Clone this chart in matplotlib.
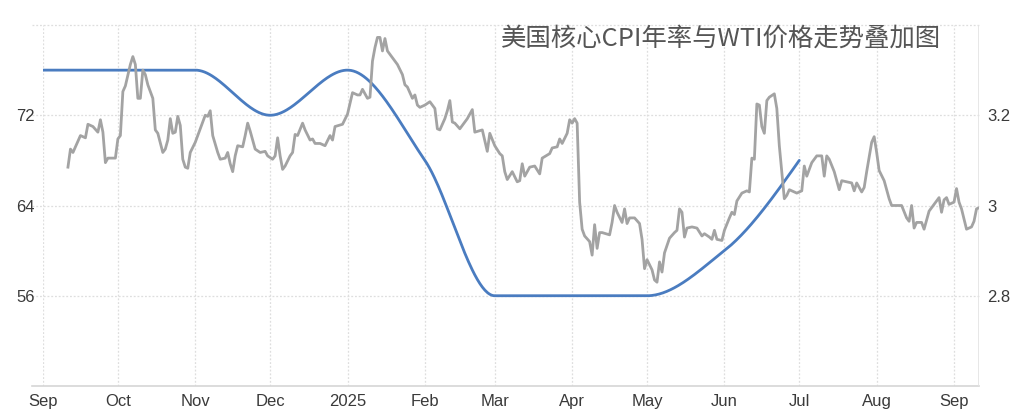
import numpy as np
import matplotlib
matplotlib.use("Agg")
import matplotlib.pyplot as plt
import matplotlib.dates as mdates

# ---------------- data ----------------
start_date = np.datetime64("2024-09-01")

# WTI price (left axis): day offset from 2024-09-01 and price
wti_days = [
    10, 11, 12, 13, 15, 17, 18, 20, 22, 23, 24, 25, 26, 29,
    30, 31, 32, 33, 35, 36, 37, 38, 39, 40, 41, 42, 44, 45, 46, 48, 49, 50, 51, 52, 53, 54, 55, 56, 57, 58, 59,
    61, 63, 65, 66, 67, 68, 70, 71, 73, 74, 75, 76, 77, 78, 80, 81, 82, 83, 85, 87, 89,
    90, 92, 93, 94, 95, 96, 97, 99, 100, 101, 102, 104, 105, 107, 108, 109, 111, 113, 115, 116, 117, 120,
    122, 124, 126, 127, 128, 130, 131, 132, 133, 134, 135, 136, 137, 138, 140, 142, 144, 145, 146, 148, 149, 150,
    151, 153, 155, 157, 158, 159, 161, 162, 163, 164, 165, 167, 168, 170, 172, 173, 176, 178,
    179, 181, 183, 184, 185, 186, 188, 190, 191, 192, 193, 195, 197, 199, 200, 203, 204, 206, 207, 208, 210, 211,
    212, 213, 214, 215, 216, 217, 219, 220, 221, 222, 223, 224, 227, 228, 229, 230, 232, 233, 234, 235, 237, 239, 240,
    241, 242, 244, 245, 246, 247, 248, 249, 251, 253, 254, 255, 256, 257, 258, 260, 262, 264, 265, 267, 268, 269, 270,
    272, 273, 275, 276, 277, 278, 280, 282, 283, 284, 285, 286, 287, 288, 289, 290, 291, 293, 294, 295, 297, 298, 299,
    302, 304, 305, 306, 307, 308, 310, 312, 313, 314, 315, 317, 319, 320, 322, 324, 325, 326, 328, 329, 330,
    332, 333, 334, 335, 337, 339, 340, 342, 344, 346, 347, 348, 349, 350, 352, 353, 355, 357, 359, 360,
    361, 362, 363, 365, 366, 367, 368, 370, 372, 373, 374, 375,
]
wti_price = [
    67.4, 69.0, 68.7, 69.2, 70.2, 70.0, 71.2, 71.0, 70.5, 71.6, 70.5, 67.8, 68.2, 68.2,
    69.9, 70.2, 74.1, 74.6, 76.5, 77.2, 76.5, 73.5, 73.5, 76.0, 75.6, 74.7, 73.5, 70.7, 70.4, 68.7, 69.0, 69.8, 71.7, 70.4, 70.5, 71.9, 71.1, 68.1, 67.4, 67.3, 68.7,
    69.6, 70.8, 72.0, 71.9, 72.4, 70.2, 68.7, 68.1, 68.2, 68.7, 67.7, 67.0, 68.4, 69.3, 69.2, 70.2, 71.3, 70.6, 69.0, 68.7, 68.8,
    68.4, 68.1, 68.4, 70.0, 68.4, 67.2, 67.5, 68.4, 68.7, 70.3, 70.2, 71.3, 70.7, 69.8, 69.9, 69.5, 69.5, 69.3, 70.2, 69.8, 71.0, 71.2,
    72.1, 74.0, 73.8, 73.8, 74.3, 73.5, 73.6, 76.8, 78.0, 78.9, 78.9, 77.7, 78.8, 77.7, 77.1, 76.5, 75.6, 74.7, 74.5, 73.5, 73.8, 72.9,
    72.7, 72.9, 73.2, 72.6, 70.8, 70.7, 71.7, 72.4, 73.3, 71.4, 71.3, 70.8, 71.1, 71.7, 72.5, 70.5, 70.7, 68.8,
    70.4, 69.3, 68.6, 68.4, 67.0, 66.3, 67.0, 66.1, 66.2, 67.7, 66.6, 67.4, 67.5, 66.8, 68.2, 68.6, 69.1, 69.2, 69.9, 69.5, 70.4, 71.6,
    71.3, 71.7, 71.3, 64.3, 61.9, 61.3, 60.8, 59.6, 62.3, 60.2, 61.6, 61.6, 61.4, 62.5, 64.0, 63.4, 62.5, 63.7, 62.4, 62.9, 62.9, 62.4, 61.0,
    58.4, 59.2, 58.3, 57.4, 57.2, 59.0, 58.1, 59.8, 61.1, 61.6, 61.8, 63.7, 63.4, 61.2, 62.0, 62.1, 62.0, 61.3, 61.5, 61.2, 61.0, 61.8, 61.0,
    60.9, 61.8, 62.9, 63.4, 63.2, 64.4, 65.1, 65.3, 65.2, 68.2, 68.1, 73.0, 72.9, 71.0, 70.4, 73.3, 73.6, 73.9, 72.6, 69.3, 64.6, 64.9, 65.4,
    65.1, 65.3, 67.5, 66.6, 67.2, 67.8, 68.4, 68.4, 66.6, 68.4, 68.1, 67.0, 65.4, 66.2, 66.1, 66.0, 65.3, 66.0, 65.2, 65.6, 67.0,
    69.6, 70.1, 68.7, 67.1, 66.2, 64.6, 64.0, 64.0, 64.0, 62.9, 62.6, 64.0, 62.0, 62.5, 62.5, 61.9, 63.5, 64.1, 64.7, 63.4,
    64.5, 64.7, 64.1, 64.3, 65.5, 64.3, 63.7, 61.9, 62.1, 62.6, 63.7, 63.8,
]

# US core CPI YoY (right axis), monthly
cpi_months = ["2024-09-01", "2024-10-01", "2024-11-01", "2024-12-01", "2025-01-01", "2025-02-01",
              "2025-03-01", "2025-04-01", "2025-05-01", "2025-06-01", "2025-07-01"]
cpi_values = [3.3, 3.3, 3.3, 3.2, 3.3, 3.1, 2.8, 2.8, 2.8, 2.9, 3.1]

# axis ticks
month_ticks = ["2024-09-01", "2024-10-01", "2024-11-01", "2024-12-01", "2025-01-01", "2025-02-01",
               "2025-03-01", "2025-04-01", "2025-05-01", "2025-06-01", "2025-07-01", "2025-08-01", "2025-09-01"]
month_labels = ["Sep", "Oct", "Nov", "Dec", "2025", "Feb", "Mar", "Apr", "May", "Jun", "Jul", "Aug", "Sep"]
left_ticks = [56, 64, 72]
right_ticks = [2.8, 3.0, 3.2]
right_tick_labels = ["2.8", "3", "3.2"]
title = "美国核心CPI年率与WTI价格走势叠加图"


# ------------- monotone cubic smoothing for the CPI line -------------
def monotone_curve(x, y, n=600):
    x = np.asarray(x, float)
    y = np.asarray(y, float)
    h = np.diff(x)
    d = np.diff(y) / h
    m = np.zeros_like(y)
    for k in range(1, len(y) - 1):
        if d[k - 1] * d[k] <= 0:
            m[k] = 0.0
        else:
            w1 = 2 * h[k] + h[k - 1]
            w2 = h[k] + 2 * h[k - 1]
            m[k] = (w1 + w2) / (w1 / d[k - 1] + w2 / d[k])
    m[0] = (3 * d[0] - m[1]) / 2
    if m[0] * d[0] <= 0:
        m[0] = 0.0
    m[-1] = (3 * d[-1] - m[-2]) / 2
    if m[-1] * d[-1] <= 0:
        m[-1] = 0.0
    xs = np.linspace(x[0], x[-1], n)
    idx = np.clip(np.searchsorted(x, xs, side="right") - 1, 0, len(x) - 2)
    t = (xs - x[idx]) / h[idx]
    h00 = 2 * t**3 - 3 * t**2 + 1
    h10 = t**3 - 2 * t**2 + t
    h01 = -2 * t**3 + 3 * t**2
    h11 = t**3 - t**2
    ys = h00 * y[idx] + h10 * h[idx] * m[idx] + h01 * y[idx + 1] + h11 * h[idx] * m[idx + 1]
    return xs, ys


# ---------------- figure ----------------
plt.rcParams["font.family"] = ["Liberation Sans", "DejaVu Sans"]

W, H = 1024, 418
fig = plt.figure(figsize=(W / 100, H / 100), dpi=100)
ax = fig.add_axes([43 / W, 32 / H, 936 / W, 361 / H])
ax2 = ax.twinx()
ax.set_zorder(ax2.get_zorder() + 1)
ax.patch.set_visible(False)

wti_x = start_date + np.array(wti_days).astype("timedelta64[D]")
cpi_x = mdates.date2num(np.array(cpi_months, dtype="datetime64[D]"))
tick_x = mdates.date2num(np.array(month_ticks, dtype="datetime64[D]"))

x_left = mdates.date2num(start_date)
x_right = mdates.date2num(wti_x[-1])

ax.set_ylim(48, 80)
ax2.set_ylim(2.6, 3.4)

grid_c = "#dedede"
# horizontal grid lines (drawn on lower axis)
for v in [2.8, 3.0, 3.2, 3.4]:
    ax2.axhline(v, xmin=-0.012, xmax=1, clip_on=False, color=grid_c, lw=0.9,
                ls=(0, (1.5, 1.5)), zorder=0)
for tx in tick_x:
    ax2.axvline(tx, color=grid_c, lw=0.9, ls=(0, (1.5, 1.5)), zorder=0)
# bottom axis line and right border
ax2.axhline(2.6, xmin=-0.012, xmax=1, clip_on=False, color="#d6d6d6", lw=1.2, zorder=1)
ax2.axvline(x_right, color="#e3e3e3", lw=1.2, zorder=1)

for a in (ax, ax2):
    for s in a.spines.values():
        s.set_visible(False)

# CPI line
xs, ys = monotone_curve(cpi_x, cpi_values)
ax2.plot(xs, ys, color="#4a7cc0", lw=2.0, solid_capstyle="round", zorder=3)

# WTI line
ax.plot(mdates.date2num(wti_x), wti_price, color="#a3a3a3", lw=2.0,
        solid_joinstyle="round", zorder=3)

ax.set_xlim(x_left, x_right)

# ticks
ax.set_xticks(tick_x)
ax.set_xticklabels(month_labels)
ax.set_yticks(left_ticks)
ax.set_yticklabels([str(v) for v in left_ticks])
ax2.set_yticks(right_ticks)
ax2.set_yticklabels(right_tick_labels)
ax.tick_params(axis="both", length=0, labelsize=12, colors="#3a3a3a", pad=6)
ax2.tick_params(axis="y", length=0, labelsize=12, colors="#3a3a3a", pad=6)

fig.text(721 / W, 1 - 39 / H, title, ha="center", va="center", fontsize=18.3,
         color="#555555", family=["Noto Sans CJK SC", "DejaVu Sans"])

fig.savefig("out.png", dpi=100, facecolor="white")
